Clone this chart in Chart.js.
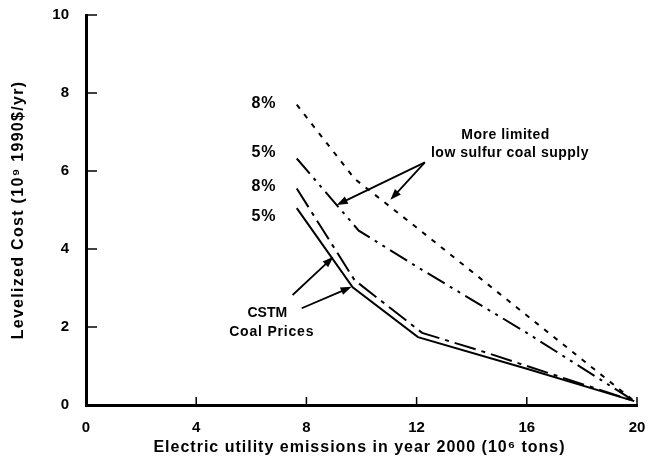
<!DOCTYPE html>
<html>
<head>
    <title>Levelized Cost vs Emissions</title>
    <script src="https://cdn.jsdelivr.net/npm/chart.js"></script>
    <style>
        body {
            margin: 0;
            background: #fff;
        }
    </style>
</head>
<body>
    <canvas id="costChart" width="654" height="463"></canvas>

    <script>
// values (x = emissions 10^6 tons, y = cost 10^9 1990$/yr)
const limited8X = [7.65, 9.75, 12, 19.9];
const limited8Y = [7.7, 5.8, 4.55, 0.1];
const limited5X = [7.65, 9.9, 12, 16, 19.9];
const limited5Y = [6.32, 4.47, 3.55, 1.85, 0.1];
const cstm8X = [7.65, 9.75, 12.2, 14.5, 16, 19.9];
const cstm8Y = [5.55, 3.2, 1.85, 1.35, 1.0, 0.1];
const cstm5X = [7.65, 9.68, 12.05, 16, 19.9];
const cstm5Y = [5.05, 3.02, 1.74, 0.93, 0.1];

const xTicks = [0, 4, 8, 12, 16, 20];
const yTicks = [0, 2, 4, 6, 8, 10];

const xTitle = 'Electric utility emissions in year 2000 (10\u2076 tons)';
const yTitle = 'Levelized Cost (10\u2079 1990$/yr)';

// rate labels at the left end of each curve
const rateLabels = ['8%', '5%', '8%', '5%'];
const rateLabelX = 6.46;
const rateLabelY = [7.72, 6.46, 5.59, 4.82];

const FONT = '"Liberation Sans", Arial, Helvetica, sans-serif';

function pts(xs, ys) {
    return xs.map((x, i) => ({ x: x, y: ys[i] }));
}

function arrow(ctx, x1, y1, x2, y2) {
    const a = Math.atan2(y2 - y1, x2 - x1);
    const len = 11, w = 4;
    ctx.beginPath();
    ctx.moveTo(x1, y1);
    ctx.lineTo(x2 - Math.cos(a) * len * 0.8, y2 - Math.sin(a) * len * 0.8);
    ctx.stroke();
    ctx.beginPath();
    ctx.moveTo(x2, y2);
    ctx.lineTo(x2 - Math.cos(a) * len - Math.sin(a) * w, y2 - Math.sin(a) * len + Math.cos(a) * w);
    ctx.lineTo(x2 - Math.cos(a) * len + Math.sin(a) * w, y2 - Math.sin(a) * len - Math.cos(a) * w);
    ctx.closePath();
    ctx.fill();
}

const annotate = {
    id: 'annotate',
    afterDraw(chart) {
        const ctx = chart.ctx;
        const xs = chart.scales.x, ys = chart.scales.y;
        const X = v => xs.getPixelForValue(v);
        const Y = v => ys.getPixelForValue(v);
        ctx.save();
        ctx.strokeStyle = '#000';
        ctx.fillStyle = '#000';

        // tick marks point into the plot
        ctx.lineWidth = 1.5;
        xTicks.forEach(v => {
            if (v === 0) return;
            ctx.beginPath();
            ctx.moveTo(X(v), ys.bottom);
            ctx.lineTo(X(v), ys.bottom - 8);
            ctx.stroke();
        });
        yTicks.forEach(v => {
            if (v === 0) return;
            ctx.beginPath();
            ctx.moveTo(xs.left, Y(v));
            ctx.lineTo(xs.left + 11, Y(v));
            ctx.stroke();
        });

        ctx.textAlign = 'center';
        ctx.textBaseline = 'middle';
        ctx.font = 'bold 16px ' + FONT;
        ctx.letterSpacing = '1px';
        rateLabels.forEach((t, i) => ctx.fillText(t, X(rateLabelX), Y(rateLabelY[i])));

        ctx.font = 'bold 14px ' + FONT;
        ctx.letterSpacing = '0.5px';
        ctx.fillText('More limited', X(15.23), Y(6.92));
        ctx.fillText('low sulfur coal supply', X(15.39), Y(6.46));
        ctx.letterSpacing = '0px';
        ctx.fillText('CSTM', X(6.58), Y(2.36));
        ctx.letterSpacing = '0.8px';
        ctx.fillText('Coal Prices', X(6.74), Y(1.87));

        ctx.lineWidth = 1.8;
        arrow(ctx, X(12.3), Y(6.22), X(9.1), Y(5.13));
        arrow(ctx, X(12.3), Y(6.22), X(11.05), Y(5.26));
        arrow(ctx, X(7.5), Y(2.82), X(8.98), Y(3.8));
        arrow(ctx, X(7.83), Y(2.48), X(9.64), Y(3.03));

        // axis titles, letter-spaced like the scanned lettering
        ctx.font = 'bold 16px ' + FONT;
        ctx.letterSpacing = '1px';
        ctx.fillText(xTitle, (xs.left + xs.right) / 2 - 2, 448);
        ctx.letterSpacing = '1.3px';
        ctx.translate(19, (ys.top + ys.bottom) / 2);
        ctx.rotate(-Math.PI / 2);
        ctx.fillText(yTitle, 0, 0);
        ctx.restore();
    }
};

function series(label, xs, ys, dash) {
    return {
        label: label,
        data: pts(xs, ys),
        borderColor: '#000',
        borderWidth: 2,
        borderDash: dash,
        pointRadius: 0,
        tension: 0,
        fill: false
    };
}

new Chart(document.getElementById('costChart'), {
    type: 'line',
    data: {
        datasets: [
            series('8% limited', limited8X, limited8Y, [5, 7]),
            series('5% limited', limited5X, limited5Y, [20, 6, 3, 6, 3, 6]),
            series('8% CSTM', cstm8X, cstm8Y, [22, 6, 4, 6]),
            series('5% CSTM', cstm5X, cstm5Y, [])
        ]
    },
    options: {
        responsive: false,
        animation: false,
        devicePixelRatio: 1,
        layout: { padding: { top: 15, right: 17, left: 0, bottom: 0 } },
        plugins: {
            legend: { display: false },
            tooltip: { enabled: false }
        },
        scales: {
            x: {
                type: 'linear',
                min: 0,
                max: 20,
                afterFit: s => { s.height = 58; s.paddingLeft = 0; s.paddingRight = 0; },
                afterBuildTicks: s => { s.ticks = xTicks.map(v => ({ value: v })); },
                grid: { display: false, drawTicks: false },
                border: { display: true, color: '#000', width: 3 },
                ticks: { color: '#000', padding: 14, font: { family: FONT, size: 15, weight: 'bold' } }
            },
            y: {
                type: 'linear',
                min: 0,
                max: 10,
                afterFit: s => { s.width = 86; s.paddingTop = 0; s.paddingBottom = 0; },
                afterBuildTicks: s => { s.ticks = yTicks.map(v => ({ value: v })); },
                grid: { display: false, drawTicks: false },
                border: { display: true, color: '#000', width: 3 },
                ticks: { color: '#000', padding: 17, font: { family: FONT, size: 15, weight: 'bold' } }
            }
        }
    },
    plugins: [annotate]
});
</script>
</body>
</html>
